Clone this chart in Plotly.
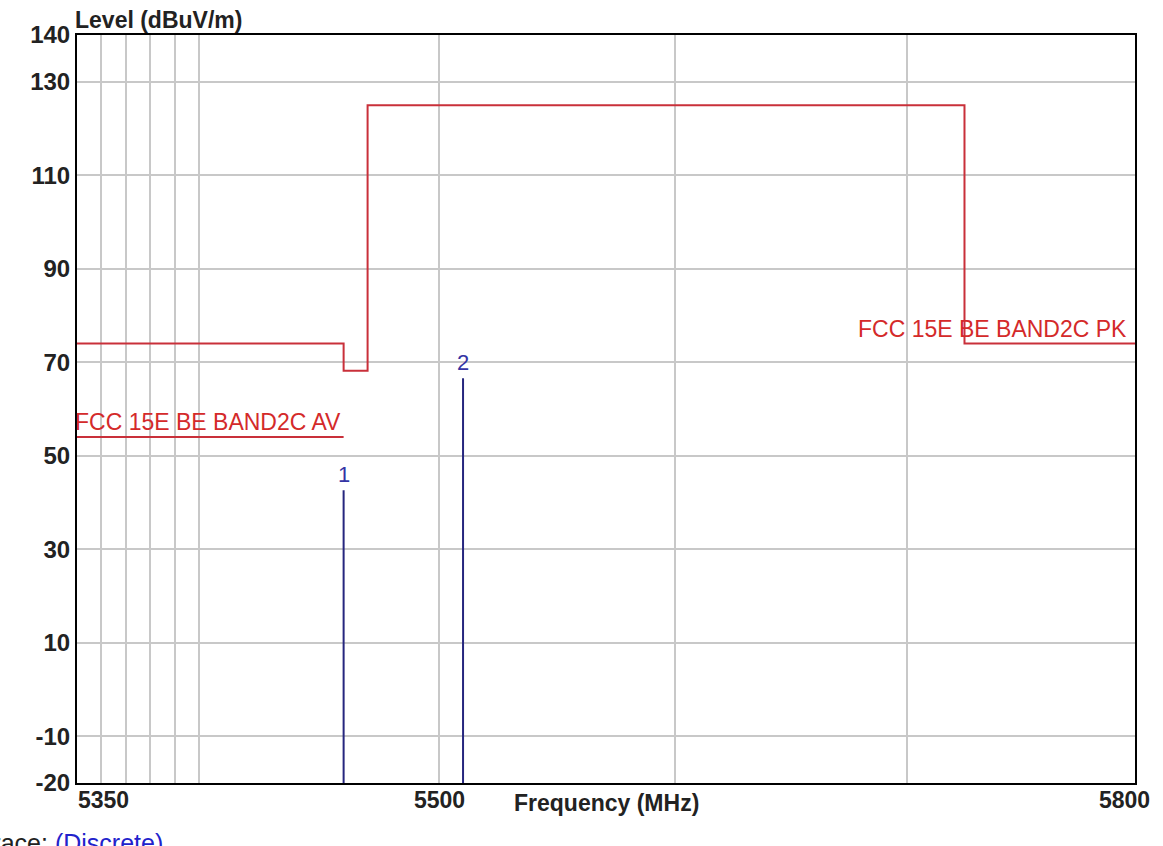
import plotly.graph_objects as go
import math

# ---- data ----
pk_freq = [5350, 5460, 5470, 5725, 5800]
pk_level = [74, 68.2, 125, 74, 74]
av_freq = [5350, 5460]
av_level = [54, 54]
marker_freq = [5460, 5510]
marker_level = [42.6, 66.6]
marker_label = ["1", "2"]
grid_x = [5360, 5370, 5380, 5390, 5400, 5500, 5600, 5700]
xtick_vals = [5350, 5500, 5800]
ytick_vals = [-20, -10, 10, 30, 50, 70, 90, 110, 130, 140]
x_range = [5350, 5800]
y_range = [-20, 140]

RED = "#c9303a"
RED_TXT = "#d42a2a"
BLUE = "#26267e"
BLUE_TXT = "#3434a4"
FONT = "Arial, Liberation Sans, sans-serif"
FS = 23

fig = go.Figure()

fig.add_trace(go.Scatter(x=pk_freq, y=pk_level, mode="lines", line=dict(color=RED, width=2, shape="hv"),
                         hoverinfo="skip", showlegend=False))
fig.add_trace(go.Scatter(x=av_freq, y=av_level, mode="lines", line=dict(color=RED, width=2),
                         hoverinfo="skip", showlegend=False))

mx, my = [], []
for f, v in zip(marker_freq, marker_level):
    mx += [f, f, None]
    my += [y_range[0], v, None]
fig.add_trace(go.Scatter(x=mx, y=my, mode="lines", line=dict(color=BLUE, width=2),
                         hoverinfo="skip", showlegend=False))

annotations = []
for f, v, t in zip(marker_freq, marker_level, marker_label):
    annotations.append(dict(x=math.log10(f), y=v, xref="x", yref="y", text=t, showarrow=False,
                            xanchor="center", yanchor="bottom", yshift=1,
                            font=dict(family=FONT, size=22, color=BLUE_TXT)))

annotations.append(dict(x=math.log10(av_freq[0]), y=av_level[0], xref="x", yref="y",
                        text="FCC 15E BE BAND2C AV", showarrow=False, xanchor="left", yanchor="bottom",
                        xshift=-4, yshift=0, font=dict(family=FONT, size=FS, color=RED_TXT)))
annotations.append(dict(x=math.log10(pk_freq[-1]), y=pk_level[-1], xref="x", yref="y",
                        text="FCC 15E BE BAND2C PK", showarrow=False, xanchor="right", yanchor="bottom",
                        xshift=-6, yshift=0, font=dict(family=FONT, size=FS, color=RED_TXT)))

# x tick labels
for val in xtick_vals:
    if val == xtick_vals[0]:
        xa, xs = "left", -1
    elif val == xtick_vals[-1]:
        xa, xs = "center", -11
    else:
        xa, xs = "center", 0
    annotations.append(dict(x=math.log10(val), y=0, xref="x", yref="paper", text="<b>%d</b>" % val,
                            showarrow=False, xanchor=xa, yanchor="top", xshift=xs, yshift=-2,
                            font=dict(family=FONT, size=FS, color="#222")))

annotations.append(dict(x=0, y=1, xref="paper", yref="paper", text="<b>Level (dBuV/m)</b>",
                        showarrow=False, xanchor="left", yanchor="bottom", xshift=-4, yshift=0,
                        font=dict(family=FONT, size=FS, color="#222")))
annotations.append(dict(x=0.5, y=0, xref="paper", yref="paper", text="<b>Frequency (MHz)</b>",
                        showarrow=False, xanchor="center", yanchor="top", yshift=-5,
                        font=dict(family=FONT, size=FS, color="#222")))
annotations.append(dict(x=0, y=0, xref="paper", yref="paper",
                        text="Trace: <span style='color:#2222cc'>(Discrete)</span>",
                        showarrow=False, xanchor="left", yanchor="top", xshift=-101, yshift=-44,
                        font=dict(family=FONT, size=25, color="#222")))

fig.update_layout(
    width=1163, height=846,
    margin=dict(l=77, r=28, t=35, b=63),
    paper_bgcolor="white", plot_bgcolor="white",
    font=dict(family=FONT, size=FS, color="#222"),
    annotations=annotations,
    xaxis=dict(type="log", range=[math.log10(x_range[0]), math.log10(x_range[1])],
               tickvals=grid_x, showticklabels=False, ticks="",
               showgrid=True, gridcolor="#c8c8c8", gridwidth=1.5,
               showline=True, linecolor="black", linewidth=2, mirror=True, zeroline=False),
    yaxis=dict(range=y_range, tickvals=ytick_vals, ticktext=["<b>%d</b>" % v for v in ytick_vals],
               ticks="", ticklabelstandoff=0, tickfont=dict(family=FONT, size=24, color="#222"),
               showgrid=True, gridcolor="#c8c8c8", gridwidth=1.5,
               showline=True, linecolor="black", linewidth=2, mirror=True, zeroline=False),
)

fig.write_html("out.html", config={"displayModeBar": False},
               post_script="document.body.style.margin='0';")
